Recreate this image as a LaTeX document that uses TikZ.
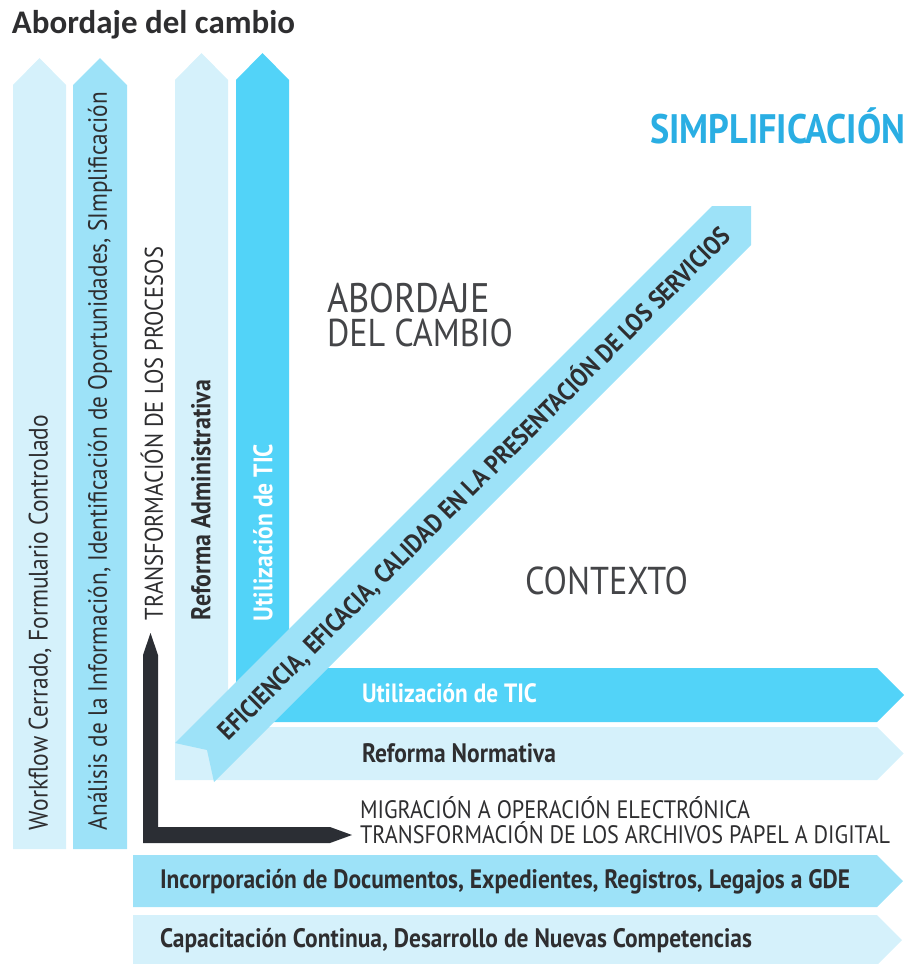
\documentclass[tikz,border=0pt]{standalone}
\usepackage{fontspec}
\setmainfont{PT Sans}[FakeStretch=0.88]
\newfontfamily\titlefont{Carlito}
\usepackage{graphicx}
\definecolor{cLight}{HTML}{D5F1FB}
\definecolor{cMed}{HTML}{9DE2F8}
\definecolor{cBright}{HTML}{52D3F8}
\definecolor{cDark}{HTML}{2B2E34}
\definecolor{cText}{HTML}{2E2E30}
\definecolor{cGray}{HTML}{444548}
\definecolor{cCyan}{HTML}{2AAEE3}
\newcommand{\fw}[2]{\resizebox{#1pt}{!}{#2}}
\begin{document}
\begin{tikzpicture}[x=1pt,y=-1pt,
  lightfill/.style={fill=cLight,draw=none},
  medfill/.style={fill=cMed,draw=none},
  brightfill/.style={fill=cBright,draw=none},
  darkfill/.style={fill=cDark,draw=none},
  txt/.style={inner sep=0pt,outer sep=0pt,text=cText},
  boldtxt/.style={txt,font=\bfseries},
  whitetxt/.style={inner sep=0pt,outer sep=0pt,text=white,font=\bfseries},
  bigtxt/.style={inner sep=0pt,outer sep=0pt,text=cGray}]
\useasboundingbox (0,0) rectangle (909,964);
% vertical arrows
\fill[lightfill] (13,849) -- (13,85) -- (39.5,58) -- (66,85) -- (66,849) -- cycle;
\fill[medfill] (73,849) -- (73,85) -- (100,58) -- (127,85) -- (127,849) -- cycle;
% light L
\fill[lightfill] (175,780) -- (175,80) -- (201.5,53) -- (228,80) -- (228,727) -- (877,727) -- (903.5,753.5) -- (877,780) -- cycle;
% bright L
\fill[brightfill] (236,722) -- (236,80) -- (262.5,53) -- (289,80) -- (289,668) -- (877,668) -- (904,695) -- (877,722) -- cycle;
% diagonal
\fill[medfill] (175,743) -- (712,206) -- (751,206) -- (751,245) -- (214,782) -- (207,750) -- cycle;
% black L
\fill[darkfill] (143,843) -- (143,655) -- (150.5,633) -- (158,655) -- (158,827) -- (330,827) -- (352,835) -- (330,843) -- cycle;
% bottom arrows
\fill[medfill] (133,855) -- (877,855) -- (903,881) -- (877,907) -- (133,907) -- cycle;
\fill[lightfill] (133,915) -- (877,915) -- (902,940) -- (877,965) -- (133,965) -- cycle;
% title
\node[txt,anchor=base west] (title) at (12,33) {\fw{283}{\titlefont\bfseries Abordaje del cambio}};
\node[inner sep=0pt,anchor=base west,text=cCyan,font=\bfseries] (simp) at (650,143) {\fw{255}{SIMPLIFICACIÓN}};
\node[bigtxt,anchor=base west] (ab1) at (327,312) {\fw{163}{ABORDAJE}};
\node[bigtxt,anchor=base west] (ab2) at (327,346) {\fw{186}{DEL CAMBIO}};
\node[bigtxt,anchor=base west] (ctx) at (525,594) {\fw{163}{CONTEXTO}};
% vertical texts
\node[txt,rotate=90,anchor=west] (wf) at (40,830) {\fw{415}{Workflow Cerrado, Formulario Controlado}};
\node[txt,rotate=90,anchor=west] (an) at (100,830) {\fw{738}{Análisis de la Información, Identificación de Oportunidades, SImplificación}};
\node[txt,rotate=90,anchor=west] (tp) at (152,620) {\fw{373}{TRANSFORMACIÓN DE LOS PROCESOS}};
\node[boldtxt,rotate=90,anchor=west] (ra) at (201,620) {\fw{240}{Reforma Administrativa}};
\node[whitetxt,rotate=90,anchor=west] (ut) at (263,621) {\fw{177}{Utilización de TIC}};
% diagonal text
\node[boldtxt,rotate=45] (ef) at (474,483) {\fw{712}{EFICIENCIA, EFICACIA, CALIDAD EN LA PRESENTACIÓN DE LOS SERVICIOS}};
% horizontal texts
\node[whitetxt,anchor=base west] (uth) at (362,702) {\fw{175}{Utilización de TIC}};
\node[boldtxt,anchor=base west] (rn) at (362,762) {\fw{194}{Reforma Normativa}};
\node[txt,anchor=base west] (mg) at (360,818) {\fw{390}{MIGRACIÓN A OPERACIÓN ELECTRÓNICA}};
\node[txt,anchor=base west] (tr) at (360,843) {\fw{530}{TRANSFORMACIÓN DE LOS ARCHIVOS PAPEL A DIGITAL}};
\node[boldtxt,anchor=base west] (inc) at (160,888) {\fw{690}{Incorporación de Documentos, Expedientes, Registros, Legajos a GDE}};
\node[boldtxt,anchor=base west] (cap) at (160,947) {\fw{592}{Capacitación Continua, Desarrollo de Nuevas Competencias}};
\end{tikzpicture}
\end{document}
